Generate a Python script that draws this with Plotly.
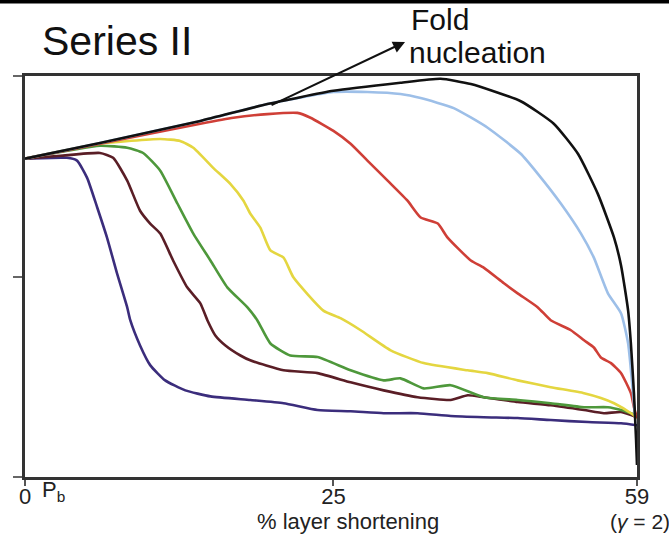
import plotly.graph_objects as go

# Shear strain (gamma) along the horizontal axis; normalised layer-parallel stress vertically
x_black = [0, 0.245, 0.573, 0.792, 1.008, 1.227, 1.358, 1.457, 1.620, 1.728, 1.807, 1.872,
           1.925, 1.948, 1.971, 1.980, 1.990, 1.997, 2.000]
y_black = [0.794, 0.833, 0.888, 0.930, 0.963, 0.983, 0.993, 0.980, 0.937, 0.881, 0.806, 0.706,
           0.597, 0.527, 0.415, 0.333, 0.209, 0.092, 0.030]

x_blue = [0, 0.245, 0.573, 0.792, 1.008, 1.119, 1.227, 1.293, 1.401, 1.512, 1.620, 1.676,
          1.751, 1.817, 1.859, 1.905, 1.948, 1.971, 1.987, 1.993]
y_blue = [0.794, 0.833, 0.888, 0.930, 0.960, 0.960, 0.955, 0.945, 0.920, 0.871, 0.806, 0.756,
          0.682, 0.607, 0.547, 0.458, 0.408, 0.333, 0.209, 0.154]

x_red = [0, 0.245, 0.573, 0.681, 0.792, 0.890, 0.933, 1.008, 1.064, 1.119, 1.185, 1.250,
         1.293, 1.349, 1.381, 1.457, 1.499, 1.565, 1.610, 1.676, 1.718, 1.784, 1.827, 1.859,
         1.882, 1.915, 1.948, 1.980, 1.990, 2.000]
y_red = [0.794, 0.831, 0.881, 0.896, 0.905, 0.908, 0.896, 0.863, 0.831, 0.789, 0.739, 0.689,
         0.647, 0.632, 0.597, 0.540, 0.522, 0.483, 0.458, 0.423, 0.391, 0.366, 0.341, 0.323,
         0.298, 0.284, 0.259, 0.209, 0.174, 0.147]

x_yellow = [0, 0.245, 0.442, 0.507, 0.550, 0.615, 0.671, 0.714, 0.736, 0.769, 0.802, 0.845,
            0.877, 0.975, 1.031, 1.097, 1.195, 1.303, 1.447, 1.512, 1.610, 1.718, 1.827,
            1.882, 1.925, 1.980, 2.000]
y_yellow = [0.794, 0.831, 0.843, 0.838, 0.821, 0.771, 0.731, 0.689, 0.657, 0.622, 0.565, 0.547,
            0.498, 0.415, 0.396, 0.366, 0.316, 0.284, 0.266, 0.259, 0.241, 0.224, 0.209,
            0.197, 0.184, 0.159, 0.147]

x_green = [0, 0.245, 0.334, 0.386, 0.442, 0.498, 0.550, 0.606, 0.661, 0.727, 0.759, 0.802,
           0.867, 0.956, 1.064, 1.172, 1.227, 1.303, 1.391, 1.499, 1.610, 1.718, 1.827,
           1.905, 1.948, 2.000]
y_green = [0.794, 0.826, 0.821, 0.808, 0.764, 0.682, 0.607, 0.540, 0.473, 0.423, 0.391, 0.333,
           0.303, 0.299, 0.266, 0.241, 0.246, 0.221, 0.229, 0.199, 0.192, 0.184, 0.174,
           0.174, 0.167, 0.154]

x_brown = [0, 0.115, 0.245, 0.288, 0.334, 0.376, 0.409, 0.442, 0.484, 0.530, 0.573, 0.596,
           0.622, 0.655, 0.704, 0.736, 0.845, 0.956, 1.064, 1.172, 1.283, 1.391, 1.447,
           1.499, 1.610, 1.718, 1.827, 1.892, 1.948, 2.000]
y_brown = [0.794, 0.801, 0.808, 0.796, 0.739, 0.664, 0.632, 0.607, 0.540, 0.473, 0.433, 0.391,
           0.353, 0.328, 0.303, 0.291, 0.266, 0.259, 0.236, 0.216, 0.199, 0.192, 0.204,
           0.199, 0.187, 0.179, 0.167, 0.159, 0.162, 0.149]

x_purple = [0, 0.137, 0.170, 0.203, 0.236, 0.268, 0.301, 0.334, 0.344, 0.376, 0.409, 0.458,
            0.524, 0.606, 0.736, 0.845, 0.956, 1.064, 1.172, 1.283, 1.391, 1.499, 1.610,
            1.718, 1.840, 1.948, 2.000]
y_purple = [0.794, 0.796, 0.789, 0.746, 0.672, 0.597, 0.507, 0.423, 0.391, 0.328, 0.279, 0.241,
            0.216, 0.201, 0.192, 0.184, 0.167, 0.164, 0.159, 0.159, 0.152, 0.149, 0.147,
            0.142, 0.137, 0.134, 0.129]

tick_vals = [0, 1.008, 2]
tick_text = ["0", "25", "59"]

series = [
    (x_purple, y_purple, "#3b2d7c"),
    (x_brown, y_brown, "#5a1e26"),
    (x_green, y_green, "#4e983b"),
    (x_yellow, y_yellow, "#e4d640"),
    (x_red, y_red, "#cf3f37"),
    (x_blue, y_blue, "#9dbfe8"),
    (x_black, y_black, "#111111"),
]

fig = go.Figure()
for xs, ys, col in series:
    fig.add_trace(go.Scatter(x=xs, y=ys, mode="lines",
                             line=dict(color=col, width=2.6, shape="spline", smoothing=0.5),
                             showlegend=False, hoverinfo="skip"))

FONT = "Liberation Sans, Arial, sans-serif"

fig.update_layout(
    width=669, height=546,
    margin=dict(l=25, r=32, t=76, b=69),
    paper_bgcolor="white", plot_bgcolor="white",
    font=dict(family=FONT, color="#222"),
    xaxis=dict(range=[0, 2], tickvals=tick_vals, ticktext=tick_text,
               showgrid=False, zeroline=False, showline=True, mirror=True,
               linecolor="#333", linewidth=3, ticks="outside", ticklen=6,
               tickcolor="#555", tickwidth=1.5, ticklabelstandoff=-8,
               tickfont=dict(size=22, color="#222")),
    yaxis=dict(range=[0, 1], tickvals=[0, 0.5, 1], showticklabels=False,
               showgrid=False, zeroline=False, showline=True, mirror=True,
               linecolor="#333", linewidth=3, ticks="outside", ticklen=9,
               tickcolor="#666", tickwidth=1.5),
)

# Rule across the top of the panel
fig.add_shape(type="line", xref="paper", yref="paper", x0=-0.1, x1=1.1, y0=1.186, y1=1.186,
              line=dict(color="black", width=4))

ann = [
    dict(text="Series II", x=0.024, y=1.087, font=dict(size=41, color="#111"), xanchor="left"),
    dict(text="Fold", x=0.628, y=1.142, font=dict(size=30, color="#111"), xanchor="left"),
    dict(text="nucleation", x=0.624, y=1.058, font=dict(size=30, color="#111"), xanchor="left"),
    dict(text="P<sub>b</sub>", x=0.025, y=-0.035, font=dict(size=22, color="#222"), xanchor="left"),
    dict(text="% layer shortening", x=0.527, y=-0.112, font=dict(size=22, color="#222"), xanchor="center"),
    dict(text="(<i>γ</i> = 2)", x=1.005, y=-0.112, font=dict(size=21, color="#222"), xanchor="center"),
]
for a in ann:
    fig.add_annotation(xref="paper", yref="paper", showarrow=False, yanchor="middle", **a)

fig.add_annotation(xref="paper", yref="paper", x=0.621, y=1.085, text="", showarrow=True,
                   ax=-135, ay=64, arrowhead=2, arrowsize=1.2, arrowwidth=2, arrowcolor="#111")

fig.write_html("out.html")
